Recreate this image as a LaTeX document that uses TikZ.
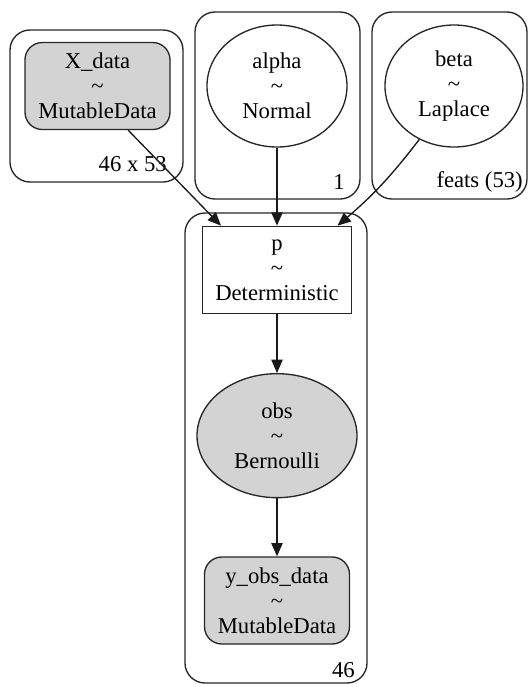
\documentclass[tikz,border=0pt]{standalone}
\usepackage{fontspec}
\setmainfont{Liberation Serif}
\usepackage{tikz}
\usetikzlibrary{arrows.meta}
\usetikzlibrary{positioning}
\usetikzlibrary{shapes}
\usepackage{xcolor}
\definecolor{obsgray}{HTML}{D3D3D3}
\tikzset{
	vertex/.style={draw=black!85, line width=1pt, align=center, inner sep=0pt,
		font=\fontsize{17}{18.8}\selectfont},
	latent/.style={vertex, ellipse, minimum width=105pt, minimum height=91.5pt},
	observed/.style={vertex, rounded corners=13pt, fill=obsgray,
		minimum width=108.75pt, minimum height=65.25pt},
	determ/.style={vertex, rectangle, minimum width=111.75pt, minimum height=65.25pt},
	plate/.style={draw=black!85, line width=1pt, rounded corners=15pt, inner sep=0pt},
	platelabel/.style={font=\fontsize{17}{18.8}\selectfont, anchor=east, inner sep=0pt},
	arc/.style={draw=black!90, line width=1pt, -{Triangle[length=10pt,width=8.5pt]}}
}

\begin{document}
\begin{tikzpicture}[x=0.75pt,y=-0.75pt]
	\useasboundingbox (0,0) rectangle (529,687);
	% plates
	\node[plate, minimum width=129.75pt, minimum height=114pt] (plateX) at (96.5,106) {};
	\node[plate, minimum width=123.75pt, minimum height=140.25pt] (plateOne) at (277.5,105.5) {};
	\node[plate, minimum width=116.25pt, minimum height=140.25pt] (plateFeats) at (449.5,105.5) {};
	\node[plate, minimum width=136.5pt, minimum height=352.5pt] (plateObs) at (276,448) {};
	\node[platelabel] (labelX) at (167,164) {46 x 53};
	\node[platelabel] (labelOne) at (345,182) {1};
	\node[platelabel] (labelFeats) at (523,182) {feats (53)};
	\node[platelabel] (labelObs) at (355,670) {46};
	
	% variables
	\node[observed] (xdata) at (97.5,86) {X\_data\\\textasciitilde\\MutableData};
	\node[latent] (alpha) at (277,86) {alpha\\\textasciitilde\\Normal};
	\node[latent, minimum width=103.5pt] (beta) at (454,86) {beta\\\textasciitilde\\Laplace};
	\node[determ] (p) [below=58.5pt of alpha] {p\\\textasciitilde\\Deterministic};
	\node[latent, fill=obsgray, minimum width=120pt, minimum height=93pt] (obs) [below=44.25pt of p] {obs\\\textasciitilde\\Bernoulli};
	\node[observed] (yobs) [below=43.5pt of obs] {y\_obs\_data\\\textasciitilde\\MutableData};
	
	% edges
	\draw[arc] ([xshift=23pt]xdata.south) -- ([xshift=-42pt]p.north);
	\draw[arc] (alpha) -- (p);
	\draw[arc] (beta.237) to[bend left=6] ([xshift=-11pt]p.north east);
	\draw[arc] (p) -- (obs);
	\draw[arc] (obs) -- (yobs);
\end{tikzpicture}
\end{document}
